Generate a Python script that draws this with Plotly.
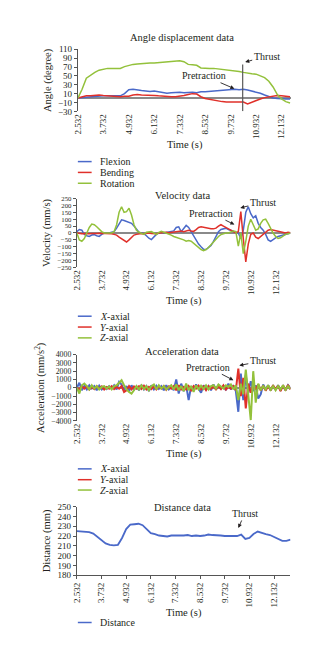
import plotly.graph_objects as go

W, H = 322, 660
FONT = "Liberation Serif"
INK = "#231f20"
AX = "#555555"

# ---------------- data ----------------
tick_vals = [2.532, 3.732, 4.932, 6.132, 7.332, 8.532, 9.732, 10.932, 12.132]
tick_text = ["2.532", "3.732", "4.932", "6.132", "7.332", "8.532", "9.732", "10.932", "12.132"]

# sampling grids (s)
angle_time = [round(2.532 + 0.2 * i, 3) for i in range(51)]
motion_time = [round(2.532 + 0.12 * i, 3) for i in range(87)]
distance_time = [round(2.532 + 0.2 * i, 3) for i in range(53)]

flexion = [0, 1, 2, 3, 3, 4, 5, 5, 5, 4, 5, 10, 19, 20, 18, 17, 16, 15, 16, 14, 12, 11, 12, 13, 13,
           12, 13, 13, 12, 14, 14, 15, 16, 17, 18, 19, 20, 20, 19, 20, 18, 16, 14, 11, 7, 3, 0, -1,
           -2, -2, -2]
bending = [0, 2, 5, 5, 6, 7, 6, 5, 4, 3, 3, 4, 4, 7, 8, 7, 7, 6, 6, 5, 4, 3, 3, 3, 4, 6, 8, 10, 9,
           3, -1, -3, -5, -7, -8, -9, -9, -9, -8, -9, -13, -9, -5, -2, 1, 3, 5, 6, 5, 4, 3]
rotation = [0, 20, 45, 52, 58, 63, 65, 67, 67, 67, 67, 71, 74, 76, 77, 78, 78, 79, 79, 80, 81, 82,
            83, 84, 84, 82, 76, 75, 74, 68, 67, 67, 67, 66, 65, 64, 63, 61, 60, 58, 56, 55, 54, 50,
            46, 38, 25, 8, -2, -8, -11]

vel_x = [10, 25, 20, -10, -20, -25, -15, -12, -20, -25, -10, 0, 2, 0, 5, 10, 35, 70, 95, 90, 83,
         78, 70, 50, 30, 5, 0, -5, -20, -38, -48, -30, -10, 0, 5, 0, 3, 5, 10, 15, 40, 45, 10, 30,
         55, 40, 10, -30, -55, -80, -100, -118, -120, -105, -90, -60, -30, 10, 25, 30, 35, 25, 20,
         15, 10, 0, -40, 20, 150, 190, 140, 110, 125, 70, 40, 20, -10, -50, -60, -45, -35, -25,
         -20, -15, -10, -5, 0]
vel_y = [0, -5, -5, -3, -5, -5, -3, -5, -3, -2, -2, 0, -2, -3, -5, -10, -15, -30, -40, -55, -65,
         -50, -30, -15, -10, -5, -3, -5, -2, 0, -3, -5, -5, 0, 2, 0, 5, 2, 5, 10, 8, 15, 15, 10,
         15, 20, 15, 12, 25, 40, 45, 40, 38, 35, 30, 30, 35, 50, 60, 50, 40, 25, 15, 5, 0, 10,
         155, -40, -210, -80, -10, 0, -30, -40, -25, -10, 10, 20, 25, 20, 15, 10, 5, 0, 0, 5, 2]
vel_z = [0, -50, -60, -40, 0, 40, 65, 60, 45, 25, 10, 0, 0, 2, 0, 10, 60, 150, 190, 150, 155, 180,
         130, 60, 20, 5, -5, -10, 5, 10, 10, 0, -12, 5, 12, 5, 0, -5, -15, -25, -30, -35, -40,
         -50, -60, -55, -60, -75, -90, -105, -120, -128, -120, -105, -85, -60, -45, -25, -12, -5,
         0, 0, 5, 15, 10, -95, 0, -150, -60, 50, 100, 60, 20, 30, 70, 95, 100, 70, 30, 0, -25,
         -40, -35, -20, -10, -5, 0]

acc_x = [0, 600, -300, 200, -200, 300, -100, 200, -300, 250, -200, 100, -150, 200, -100, 300,
         -200, 700, 400, -300, 200, -400, 300, -200, 150, -300, 350, -200, 200, -400, 300, -200,
         250, -150, 200, -300, 300, -200, 100, -300, 1000, -700, 500, -400, 300, -1500, 200, -300,
         400, -200, -600, 300, -200, 200, -300, 400, -200, 300, -100, 200, -300, 500, -200, 300,
         -400, -2900, 1700, -1500, 1500, -600, 800, -400, 300, -1300, -800, 400, -200, 300, -300,
         200, -200, 300, -250, 200, -300, 300, -100]
acc_y = [0, -200, 200, -100, 150, -200, 100, -150, 200, -100, 150, -200, 100, -100, 200, -150,
         100, -100, 200, -500, -300, 200, -200, 150, -100, 200, -150, 250, -200, 100, -150, 200,
         -200, 150, -100, 200, -250, 150, -100, 200, -300, 300, -200, 100, -200, 200, -300, 200,
         -100, 250, -200, 150, -300, 200, -100, 150, -200, 200, -150, 300, -200, 150, -100, 200,
         -300, 2300, -1000, 1200, -2500, 500, -600, 300, -200, 400, -300, 250, -350, 200, -300,
         300, -200, 250, -400, 300, -300, 350, -200]
acc_z = [0, -700, 300, 500, 200, -200, 300, -100, 200, -200, 100, 200, -100, 150, -200, 200, 300,
         600, 900, 300, -200, -500, -700, -300, 200, -200, 300, -150, 200, -300, 200, 400, -200,
         300, -100, 200, -200, 100, 300, -200, 400, -300, 200, -400, 500, -300, 200, -500, 300,
         -200, 250, -150, 300, -200, 200, 300, -100, 400, 200, -100, 300, 100, 400, -200, 300,
         -1500, 500, -800, 2200, -1000, -3900, 2000, -1800, 500, -300, 200, -200, 300, -250, 200,
         -300, 200, -200, 300, -250, 200, -150]

distance = [225, 224.8, 224.5, 224, 222.5, 219, 215.5, 212.5, 211, 210.5, 211, 218, 227, 231.5,
            232, 232.5, 231, 227, 223, 222, 220.5, 220, 219.5, 220.5, 220.5, 220, 220.5, 221,
            220, 220.5, 220, 220.5, 221.5, 221, 221, 220.5, 220, 220, 219.5, 220, 221.5, 217,
            218, 222, 224.5, 223, 222, 221, 219, 216.5, 215, 215, 216.3]

thrust_angle_time = 10.30

angle_names = ["Flexion", "Bending", "Rotation"]
axial_names = ["<i>X</i>-axial", "<i>Y</i>-axial", "<i>Z</i>-axial"]
colors = ["#4a69c9", "#e0302a", "#93c13b"]
dist_color = "#4a69c9"

# ---------------- figure ----------------
fig = go.Figure()

for name, vals, c in zip(angle_names, [flexion, bending, rotation], colors):
    fig.add_trace(go.Scatter(x=angle_time, y=vals, mode="lines", name=name,
                             line=dict(color=c, width=1.5), xaxis="x", yaxis="y",
                             showlegend=False))
for name, vals, c in zip(axial_names, [vel_x, vel_y, vel_z], colors):
    fig.add_trace(go.Scatter(x=motion_time, y=vals, mode="lines", name=name,
                             line=dict(color=c, width=1.5), xaxis="x2", yaxis="y2",
                             showlegend=False))
for name, vals, c in zip(axial_names, [acc_x, acc_y, acc_z], colors):
    fig.add_trace(go.Scatter(x=motion_time, y=vals, mode="lines", name=name,
                             line=dict(color=c, width=2), xaxis="x3", yaxis="y3",
                             showlegend=False))
fig.add_trace(go.Scatter(x=distance_time, y=distance, mode="lines", name="Distance",
                         line=dict(color=dist_color, width=1.8), xaxis="x4", yaxis="y4",
                         showlegend=False))


def py(p):
    return 1 - p / H


def px(p):
    return p / W


tickfont = dict(family=FONT, size=9, color=INK)
titlefont = dict(family=FONT, size=10.5, color=INK)


def xaxis(domain, rng, anchor, line=False):
    return dict(domain=domain, range=rng, anchor=anchor, tickmode="array",
                tickvals=tick_vals, ticktext=tick_text, tickangle=-90, tickfont=tickfont,
                showgrid=False, zeroline=False, showline=line, linecolor=AX,
                ticks="outside" if line else "", ticklen=3, tickcolor=AX,
                title=dict(text="Time (s)", font=titlefont, standoff=2))


def yaxis(domain, rng, dtick, tick0, anchor, title, size=9, zl=True):
    return dict(domain=domain, range=rng, dtick=dtick, tick0=tick0, anchor=anchor,
                tickfont=dict(family=FONT, size=size, color=INK),
                showgrid=False, zeroline=zl, zerolinecolor="#8a8a8a", zerolinewidth=2,
                showline=True, linecolor=AX, ticks="outside", ticklen=3, tickcolor=AX,
                title=dict(text=title, font=titlefont, standoff=4))


dA = [px(74), px(291)]
dB = [px(73), px(290)]
fig.update_layout(
    width=W, height=H, margin=dict(l=0, r=0, t=0, b=0), autosize=False,
    paper_bgcolor="white", plot_bgcolor="white", showlegend=False,
    font=dict(family=FONT, color=INK),
    xaxis=xaxis(dA, [2.532, 12.6], "y"),
    yaxis=yaxis([py(108), py(45)], [-30, 110], 20, -30, "x", "Angle (degree)"),
    xaxis2=xaxis(dB, [2.532, 12.852], "y2"),
    yaxis2=yaxis([py(266.5), py(196.5)], [-250, 250], 50, 0, "x2", "Velocity (mm/s)", size=6.8),
    xaxis3=xaxis(dB, [2.532, 12.852], "y3"),
    yaxis3=yaxis([py(422.3), py(355)], [-4000, 4000], 1000, 0, "x3",
                 "Acceleration (mm/s<sup>2</sup>)", size=7.8),
    xaxis4=xaxis(dB, [2.532, 12.932], "y4", line=True),
    yaxis4=yaxis([py(579), py(509.3)], [180, 250], 10, 180, "x4", "Distance (mm)", zl=False),
)

# thrust marker line in the angle panel
fig.add_shape(type="line", xref="x", yref="y", x0=thrust_angle_time, x1=thrust_angle_time,
              y0=-30, y1=76, line=dict(color="#5a5a5a", width=1.2))

anns = []
# panel titles
for text, ypix in [("Angle displacement data", 33.5), ("Velocity data", 193),
                   ("Acceleration data", 352), ("Distance data", 510)]:
    anns.append(dict(text=text, x=px(180), y=py(ypix), xref="paper", yref="paper",
                     xanchor="center", yanchor="middle", showarrow=False,
                     font=dict(family=FONT, size=10.5, color=INK)))

# arrows with labels: (text, head px, head py, ax, ay)
arrows = [("Thrust", 244, 58, 21.5, -6), ("Pretraction", 233, 85, -30, -13),
          ("Thrust", 239, 206, 22.5, -5.5), ("Pretraction", 233, 223, -23, -11.5),
          ("Thrust", 238, 366, 23.5, -4.5), ("Pretraction", 232, 381, -25, -13),
          ("Thrust", 237, 531, 6.5, -14.5)]
for text, hx, hy, ax, ay in arrows:
    anns.append(dict(text=text, x=px(hx), y=py(hy), xref="paper", yref="paper",
                     showarrow=True, ax=ax, ay=ay, arrowhead=2, arrowsize=0.9,
                     arrowwidth=0.9, arrowcolor=INK,
                     font=dict(family=FONT, size=10, color=INK)))

# legends (compact, drawn as key lines + labels)
legend_specs = [(angle_names, colors, [159, 170, 181]),
                (axial_names, colors, [316, 327, 338]),
                (axial_names, colors, [471, 482, 492.5]),
                (["Distance"], [dist_color], [627])]
for names, cols, ys in legend_specs:
    for n, c, yy in zip(names, cols, ys):
        fig.add_shape(type="line", xref="paper", yref="paper", x0=px(74), x1=px(88),
                      y0=py(yy), y1=py(yy), line=dict(color=c, width=1.5))
        anns.append(dict(text=n, x=px(94), y=py(yy), xref="paper", yref="paper",
                         xanchor="left", yanchor="middle", showarrow=False,
                         font=dict(family=FONT, size=10, color=INK)))

fig.update_layout(annotations=anns)
fig.write_html("out.html")
